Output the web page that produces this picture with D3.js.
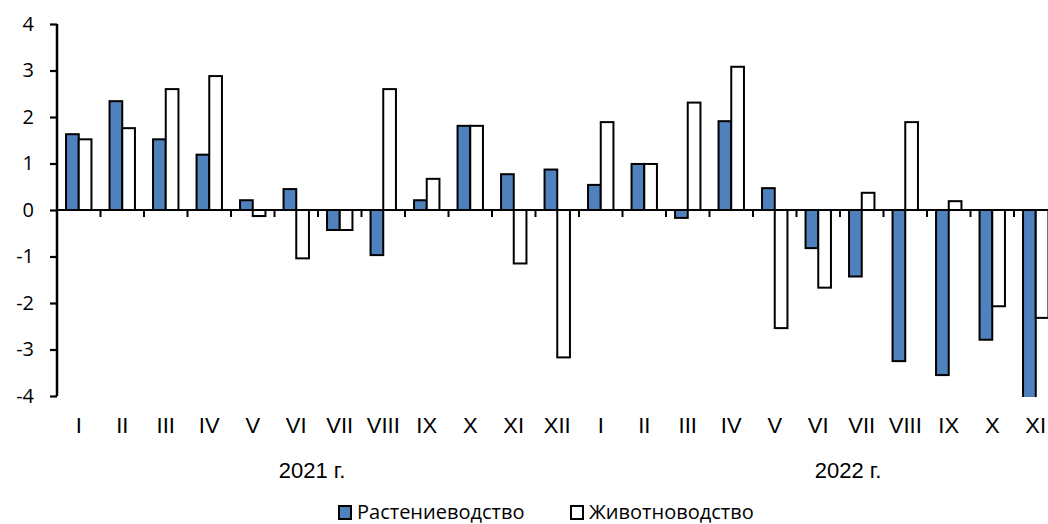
<!DOCTYPE html>
<html>
<head>
<meta charset="utf-8">
<script src="https://cdn.jsdelivr.net/npm/d3@7"></script>
<style>
  body { margin: 0; background: #fff; }
  svg { display: block; }
  .lbl { font-family: "Liberation Sans", Arial, sans-serif; }
  .cal { font-family: "Open Sans", "Noto Sans", sans-serif; }
</style>
</head>
<body>
<div id="chart"></div>
<script>
// months, 2021 then 2022 (XI 2022 is the last one, cut at the right edge)
var months = ["I","II","III","IV","V","VI","VII","VIII","IX","X","XI","XII",
              "I","II","III","IV","V","VI","VII","VIII","IX","X","XI"];
var years = ["2021 г.", "2022 г."];
var seriesNames = ["Растениеводство", "Животноводство"];

// Растениеводство
var crops = [1.63, 2.34, 1.52, 1.19, 0.21, 0.45, -0.43, -0.97, 0.21, 1.81, 0.77, 0.87,
             0.54, 0.99, -0.17, 1.91, 0.47, -0.82, -1.43, -3.25, -3.55, -2.79, -4.3];
// Животноводство
var livestock = [1.52, 1.76, 2.60, 2.88, -0.13, -1.04, -0.43, 2.60, 0.67, 1.81, -1.15, -3.17,
                 1.89, 0.99, 2.31, 3.08, -2.54, -1.67, 0.37, 1.89, 0.19, -2.07, -2.32];

var yTicks = [-4, -3, -2, -1, 0, 1, 2, 3, 4];

var width = 1048, height = 524;
var plotLeft = 57, plotTop = 24, plotBottom = 396, step = 43.5;

var svg = d3.select("#chart").append("svg")
    .attr("width", width)
    .attr("height", height);

var x = d3.scaleBand()
    .domain(d3.range(months.length))
    .range([plotLeft, plotLeft + step * months.length])
    .paddingInner(0).paddingOuter(0);

var y = d3.scaleLinear()
    .domain([-4, 4])
    .range([plotBottom, plotTop]);

var barW = 12.7;
var offset = (x.bandwidth() - 2 * barW) / 2;

svg.append("clipPath").attr("id", "plot")
  .append("rect")
    .attr("x", plotLeft).attr("y", plotTop - 2)
    .attr("width", width).attr("height", plotBottom - plotTop + 3);

var bars = svg.append("g").attr("clip-path", "url(#plot)");

var series = [
    {name: seriesNames[0], values: crops, fill: "#4f81bd", shift: 0},
    {name: seriesNames[1], values: livestock, fill: "#ffffff", shift: 1}
];

series.forEach(function(s) {
    bars.selectAll(null)
        .data(s.values)
      .enter().append("rect")
        .attr("x", function(d, i) { return x(i) + offset + s.shift * barW; })
        .attr("y", function(d) { return y(Math.max(0, d)); })
        .attr("width", barW)
        .attr("height", function(d) { return Math.abs(y(d) - y(0)); })
        .attr("fill", s.fill)
        .attr("stroke", "#000")
        .attr("stroke-width", 2);
});

// zero line with month dividers
svg.append("line")
    .attr("x1", plotLeft).attr("x2", width)
    .attr("y1", y(0)).attr("y2", y(0))
    .attr("stroke", "#000").attr("stroke-width", 2.2);

svg.append("g").selectAll("line")
    .data(d3.range(1, months.length))
  .enter().append("line")
    .attr("x1", function(d) { return x(d); })
    .attr("x2", function(d) { return x(d); })
    .attr("y1", y(0)).attr("y2", y(0) + 7)
    .attr("stroke", "#000").attr("stroke-width", 2);

// y axis (plain hyphen for negatives, as in the original)
var yAxis = svg.append("g")
    .attr("transform", "translate(" + plotLeft + ",0)")
    .call(d3.axisLeft(y).tickValues(yTicks).tickSize(7).tickPadding(16)
        .tickFormat(function(d) { return String(d); }));

yAxis.select(".domain").attr("stroke-width", 2.5)
    .attr("d", "M0," + y(4) + "V" + y(-4));
yAxis.selectAll(".tick line").attr("stroke-width", 2.2);
yAxis.selectAll("text")
    .attr("class", "cal")
    .attr("font-size", 20)
    .attr("fill", "#000");

// month labels
svg.append("g").selectAll("text")
    .data(months)
  .enter().append("text")
    .attr("class", "lbl")
    .attr("x", function(d, i) { return x(i) + x.bandwidth() / 2; })
    .attr("y", 433)
    .attr("text-anchor", "middle")
    .attr("font-size", 22)
    .text(function(d) { return d; });

// year labels
svg.append("text")
    .attr("class", "lbl")
    .attr("x", x(6) - 6)
    .attr("y", 478)
    .attr("text-anchor", "middle")
    .attr("font-size", 22)
    .text(years[0]);

svg.append("text")
    .attr("class", "lbl")
    .attr("x", x(18) + 8)
    .attr("y", 478)
    .attr("text-anchor", "middle")
    .attr("font-size", 22)
    .text(years[1]);

// legend
var legend = svg.append("g");
var legX = [339, 571];
series.forEach(function(s, i) {
    var g = legend.append("g").attr("transform", "translate(" + legX[i] + ",506)");
    g.append("rect")
        .attr("width", 12).attr("height", 13)
        .attr("fill", s.fill)
        .attr("stroke", "#000").attr("stroke-width", 2);
    g.append("text")
        .attr("class", "cal")
        .attr("x", 18).attr("y", 13)
        .attr("font-size", 20)
        .text(s.name);
});
</script>
</body>
</html>
